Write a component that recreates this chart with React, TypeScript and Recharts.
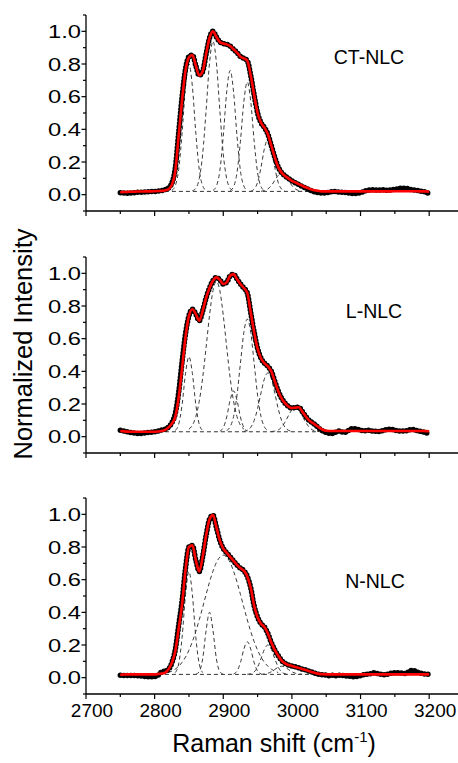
import React from 'react';
import { ComposedChart, Line, XAxis, YAxis } from 'recharts';

// Raman shift grid (cm-1) shared by the measured spectra and the fits
const SHIFT = [
  2750, 2755, 2760, 2765, 2770, 2775, 2780, 2785, 2790, 2795,
  2800, 2805, 2810, 2815, 2820, 2825, 2830, 2835, 2840, 2845,
  2850, 2855, 2860, 2865, 2870, 2875, 2880, 2885, 2890, 2895,
  2900, 2905, 2910, 2915, 2920, 2925, 2930, 2935, 2940, 2945,
  2950, 2955, 2960, 2965, 2970, 2975, 2980, 2985, 2990, 2995,
  3000, 3005, 3010, 3015, 3020, 3025, 3030, 3035, 3040, 3045,
  3050, 3055, 3060, 3065, 3070, 3075, 3080, 3085, 3090, 3095,
  3100, 3105, 3110, 3115, 3120, 3125, 3130, 3135, 3140, 3145,
  3150, 3155, 3160, 3165, 3170, 3175, 3180, 3185, 3190, 3195,
  3200,
];

// CT-NLC
const CT_EXP = [
  0.012, 0.01, 0.008, 0.01, 0.012, 0.014, 0.015, 0.016, 0.018, 0.02,
  0.02, 0.022, 0.025, 0.03, 0.04, 0.07, 0.16, 0.38, 0.6, 0.77,
  0.845, 0.855, 0.79, 0.73, 0.755, 0.86, 0.96, 1.0, 0.965, 0.935,
  0.925, 0.92, 0.91, 0.89, 0.87, 0.845, 0.835, 0.82, 0.73, 0.61,
  0.5, 0.44, 0.41, 0.37, 0.3, 0.23, 0.17, 0.135, 0.115, 0.1,
  0.085, 0.073, 0.062, 0.05, 0.04, 0.03, 0.022, 0.015, 0.012, 0.01,
  0.012, 0.015, 0.02, 0.018, 0.015, 0.014, 0.012, 0.008, 0.006, 0.008,
  0.012, 0.02, 0.026, 0.03, 0.03, 0.028, 0.03, 0.03, 0.026, 0.03,
  0.032, 0.036, 0.04, 0.04, 0.036, 0.03, 0.028, 0.024, 0.02, 0.015,
  0.005,
];
const CT_FIT = [
  0.015, 0.016, 0.017, 0.018, 0.018, 0.019, 0.019, 0.02, 0.02, 0.02,
  0.021, 0.022, 0.023, 0.026, 0.033, 0.06, 0.14, 0.36, 0.58, 0.76,
  0.84, 0.855, 0.79, 0.73, 0.755, 0.86, 0.96, 1.0, 0.965, 0.935,
  0.925, 0.92, 0.91, 0.89, 0.87, 0.845, 0.835, 0.82, 0.73, 0.61,
  0.5, 0.44, 0.41, 0.37, 0.3, 0.23, 0.17, 0.135, 0.115, 0.1,
  0.085, 0.075, 0.065, 0.055, 0.045, 0.037, 0.03, 0.025, 0.022, 0.02,
  0.02, 0.02, 0.02, 0.02, 0.02, 0.02, 0.02, 0.02, 0.02, 0.02,
  0.02, 0.02, 0.02, 0.02, 0.02, 0.02, 0.02, 0.02, 0.02, 0.02,
  0.021, 0.021, 0.021, 0.021, 0.021, 0.021, 0.021, 0.02, 0.02, 0.02,
  0.018,
];
const CT_PEAK_FROM = [2825, 2855, 2885, 2910, 2940, 2955];
const CT_PEAKS = [
  [0.026, 0.054, 0.154, 0.377, 0.662, 0.8, 0.662, 0.377, 0.154, 0.054, 0.026],
  [0.024, 0.039, 0.098, 0.249, 0.516, 0.808, 0.94, 0.808, 0.516, 0.249, 0.098, 0.039, 0.024],
  [0.026, 0.053, 0.147, 0.359, 0.629, 0.76, 0.629, 0.359, 0.147, 0.053, 0.026],
  [0.025, 0.049, 0.135, 0.327, 0.571, 0.69, 0.571, 0.327, 0.135, 0.049, 0.025],
  [0.022, 0.034, 0.075, 0.167, 0.283, 0.34, 0.283, 0.167, 0.075, 0.034, 0.022],
  [0.021, 0.025, 0.035, 0.056, 0.087, 0.117, 0.13, 0.117, 0.087, 0.056, 0.035, 0.025, 0.021],
];
const CT_BASE = [0.02, 0.02];

// L-NLC
const L_EXP = [
  0.04, 0.035, 0.03, 0.025, 0.022, 0.02, 0.02, 0.022, 0.025, 0.027,
  0.03, 0.034, 0.04, 0.045, 0.058, 0.085, 0.14, 0.27, 0.46, 0.63,
  0.74, 0.78, 0.75, 0.71, 0.77, 0.85, 0.91, 0.955, 0.975, 0.96,
  0.935, 0.945, 0.985, 0.995, 0.965, 0.935, 0.91, 0.88, 0.76, 0.64,
  0.54, 0.48, 0.45, 0.43, 0.4, 0.34, 0.28, 0.235, 0.205, 0.185,
  0.175, 0.178, 0.18, 0.155, 0.125, 0.1, 0.085, 0.068, 0.05, 0.035,
  0.025, 0.02, 0.02, 0.03, 0.035, 0.025, 0.03, 0.045, 0.05, 0.045,
  0.04, 0.035, 0.04, 0.035, 0.035, 0.03, 0.035, 0.04, 0.045, 0.045,
  0.04, 0.035, 0.035, 0.035, 0.04, 0.045, 0.04, 0.035, 0.03, 0.025,
  0.015,
];
const L_FIT = [
  0.035, 0.033, 0.031, 0.03, 0.03, 0.03, 0.03, 0.03, 0.03, 0.03,
  0.03, 0.032, 0.035, 0.04, 0.055, 0.08, 0.12, 0.24, 0.42, 0.61,
  0.74, 0.78, 0.75, 0.71, 0.77, 0.85, 0.91, 0.955, 0.975, 0.96,
  0.935, 0.945, 0.985, 0.995, 0.965, 0.935, 0.91, 0.88, 0.76, 0.64,
  0.54, 0.48, 0.45, 0.43, 0.4, 0.34, 0.28, 0.235, 0.205, 0.185,
  0.175, 0.178, 0.18, 0.155, 0.125, 0.1, 0.085, 0.07, 0.055, 0.042,
  0.036, 0.035, 0.035, 0.035, 0.035, 0.035, 0.035, 0.035, 0.035, 0.035,
  0.035, 0.035, 0.035, 0.035, 0.035, 0.035, 0.035, 0.035, 0.035, 0.035,
  0.035, 0.035, 0.035, 0.035, 0.035, 0.035, 0.035, 0.035, 0.035, 0.034,
  0.033,
];
const L_PEAK_FROM = [2830, 2850, 2895, 2905, 2930, 2970];
const L_PEAKS = [
  [0.038, 0.076, 0.196, 0.387, 0.49, 0.387, 0.196, 0.076, 0.038],
  [0.046, 0.07, 0.123, 0.217, 0.361, 0.548, 0.743, 0.894, 0.95, 0.894, 0.743, 0.548, 0.361, 0.217, 0.123, 0.07, 0.046],
  [0.034, 0.055, 0.12, 0.224, 0.28, 0.224, 0.12, 0.055, 0.034],
  [0.038, 0.06, 0.123, 0.254, 0.449, 0.639, 0.72, 0.639, 0.449, 0.254, 0.123, 0.06, 0.038],
  [0.032, 0.039, 0.057, 0.099, 0.172, 0.268, 0.355, 0.39, 0.355, 0.268, 0.172, 0.099, 0.057, 0.039, 0.032],
  [0.031, 0.034, 0.041, 0.059, 0.089, 0.129, 0.165, 0.18, 0.165, 0.129, 0.089, 0.059, 0.041, 0.034, 0.031],
];
const L_BASE = [0.03, 0.03];

// N-NLC
const N_EXP = [
  0.015, 0.014, 0.014, 0.013, 0.013, 0.012, 0.01, 0.008, 0.006, 0.005,
  0.006, 0.015, 0.035, 0.04, 0.05, 0.09, 0.17, 0.32, 0.47, 0.67,
  0.8, 0.81, 0.72, 0.65, 0.74, 0.87, 0.97, 0.995, 0.92, 0.84,
  0.79, 0.765, 0.74, 0.715, 0.69, 0.67, 0.655, 0.62, 0.55, 0.44,
  0.37, 0.33, 0.31, 0.27, 0.215, 0.17, 0.135, 0.105, 0.088, 0.078,
  0.072, 0.066, 0.06, 0.053, 0.047, 0.04, 0.033, 0.025, 0.02, 0.018,
  0.015, 0.012, 0.015, 0.012, 0.015, 0.012, 0.01, 0.008, 0.006, 0.008,
  0.012, 0.018, 0.022, 0.025, 0.03, 0.025, 0.02, 0.018, 0.022, 0.028,
  0.03, 0.03, 0.028, 0.025, 0.035, 0.045, 0.04, 0.03, 0.025, 0.022,
  0.02,
];
const N_FIT = [
  0.018, 0.019, 0.02, 0.02, 0.02, 0.02, 0.02, 0.02, 0.02, 0.02,
  0.02, 0.022, 0.025, 0.03, 0.05, 0.09, 0.16, 0.3, 0.45, 0.66,
  0.8, 0.81, 0.72, 0.65, 0.74, 0.87, 0.97, 0.995, 0.92, 0.84,
  0.79, 0.765, 0.74, 0.715, 0.69, 0.67, 0.655, 0.62, 0.55, 0.44,
  0.37, 0.33, 0.31, 0.27, 0.215, 0.17, 0.135, 0.105, 0.088, 0.078,
  0.072, 0.066, 0.06, 0.053, 0.047, 0.04, 0.033, 0.027, 0.023, 0.021,
  0.02, 0.02, 0.02, 0.02, 0.02, 0.02, 0.02, 0.02, 0.02, 0.02,
  0.02, 0.02, 0.02, 0.02, 0.02, 0.02, 0.02, 0.02, 0.02, 0.02,
  0.02, 0.02, 0.02, 0.02, 0.02, 0.02, 0.02, 0.02, 0.02, 0.02,
  0.02,
];
const N_PEAK_FROM = [2830, 2860, 2820, 2915, 2935, 2955];
const N_PEAKS = [
  [0.031, 0.084, 0.247, 0.508, 0.65, 0.508, 0.247, 0.084, 0.031],
  [0.021, 0.037, 0.115, 0.289, 0.4, 0.289, 0.115, 0.037, 0.021],
  [0.032, 0.04, 0.052, 0.07, 0.094, 0.126, 0.168, 0.221, 0.283, 0.354, 0.431, 0.51, 0.586, 0.652, 0.705, 0.738, 0.75,
    0.738, 0.705, 0.652, 0.586, 0.51, 0.431, 0.354, 0.283, 0.221, 0.168, 0.126, 0.094, 0.07, 0.052, 0.04, 0.032],
  [0.023, 0.04, 0.092, 0.175, 0.22, 0.175, 0.092, 0.04, 0.023],
  [0.021, 0.024, 0.035, 0.065, 0.117, 0.174, 0.2, 0.174, 0.117, 0.065, 0.035, 0.024, 0.021],
  [0.021, 0.022, 0.027, 0.036, 0.05, 0.064, 0.07, 0.064, 0.05, 0.036, 0.027, 0.022, 0.021],
];
const N_BASE = [0.02, 0.02];

const BASE_X = [2815, 3040];
const PEAK_STEP = 5;

const X_TICKS = [2700, 2750, 2800, 2850, 2900, 2950, 3000, 3050, 3100, 3150, 3200];
const Y_TICKS = [-0.1, 0, 0.1, 0.2, 0.3, 0.4, 0.5, 0.6, 0.7, 0.8, 0.9, 1.0, 1.1];

const FONT = '"Liberation Sans", Arial, Helvetica, sans-serif';

const panels = [
  { name: 'CT-NLC', exp: CT_EXP, fit: CT_FIT, from: CT_PEAK_FROM, peaks: CT_PEAKS, base: CT_BASE, top: 5, labelX: 369, labelY: 64 },
  { name: 'L-NLC', exp: L_EXP, fit: L_FIT, from: L_PEAK_FROM, peaks: L_PEAKS, base: L_BASE, top: 247, labelX: 374, labelY: 318 },
  { name: 'N-NLC', exp: N_EXP, fit: N_FIT, from: N_PEAK_FROM, peaks: N_PEAKS, base: N_BASE, top: 488, labelX: 375, labelY: 588 },
];

// eslint-disable-next-line @typescript-eslint/no-explicit-any
const XTick = (props: any) => {
  const { x, y, payload, showLabel } = props;
  const major = payload.value % 100 === 0;
  return (
    <g>
      <line x1={x} x2={x} y1={y} y2={y + (major ? 5 : 3)} stroke="#000" strokeWidth={1.2} />
      {showLabel && major && (
        <text x={x + 6} y={y + 23} textAnchor="middle" fontSize={19} fontFamily={FONT} fill="#000">
          {payload.value}
        </text>
      )}
    </g>
  );
};

// eslint-disable-next-line @typescript-eslint/no-explicit-any
const YTick = (props: any) => {
  const { x, y, payload } = props;
  const k = Math.round(payload.value * 10);
  const major = k >= 0 && k <= 10 && k % 2 === 0;
  return (
    <g>
      <line x1={x - (major ? 4.5 : 3)} x2={x} y1={y} y2={y} stroke="#000" strokeWidth={1.2} />
      {major && (
        <text
          x={x - 5}
          y={y + 6.5}
          textAnchor="end"
          fontSize={18.5}
          fontFamily={FONT}
          fill="#000"
          textLength={33}
          lengthAdjust="spacingAndGlyphs"
        >
          {(k / 10).toFixed(1)}
        </text>
      )}
    </g>
  );
};

const Panel: React.FC<{ p: typeof panels[number]; last: boolean }> = ({ p, last }) => {
  const rows = SHIFT.map((x, i) => ({ x, exp: p.exp[i], fit: p.fit[i] }));
  const baseRows = BASE_X.map((x, i) => ({ x, y: p.base[i] }));
  return (
    <div style={{ position: 'absolute', left: 0, top: p.top }}>
      <ComposedChart width={458} height={236} data={rows} margin={{ top: 10, right: 0, bottom: 0, left: 0 }}>
        <XAxis
          type="number"
          dataKey="x"
          domain={[2700, 3242]}
          ticks={X_TICKS}
          interval={0}
          allowDataOverflow
          height={30}
          tickSize={0}
          tickMargin={0}
          tickLine={false}
          axisLine={{ stroke: '#000', strokeWidth: 1.3 }}
          tick={(tp: any) => <XTick {...tp} showLabel={last} />}
        />
        <YAxis
          type="number"
          domain={[-0.1, 1.1]}
          ticks={Y_TICKS}
          interval={0}
          allowDataOverflow
          width={86}
          tickSize={0}
          tickMargin={0}
          tickLine={false}
          axisLine={{ stroke: '#000', strokeWidth: 1.3 }}
          tick={YTick}
        />
        <Line
          data={baseRows}
          dataKey="y"
          stroke="#333"
          strokeWidth={1}
          strokeDasharray="4 3"
          dot={false}
          isAnimationActive={false}
        />
        {p.peaks.map((ys, j) => (
          <Line
            key={j}
            data={ys.map((y, i) => ({ x: p.from[j] + i * PEAK_STEP, y }))}
            dataKey="y"
            type="monotone"
            stroke="#3a3a3a"
            strokeWidth={1}
            strokeDasharray="4 3"
            dot={false}
            isAnimationActive={false}
          />
        ))}
        <Line
          dataKey="exp"
          type="monotone"
          stroke="#000"
          strokeWidth={5.5}
          strokeDasharray="0 3.5"
          strokeLinecap="round"
          dot={false}
          isAnimationActive={false}
        />
        <Line
          dataKey="fit"
          type="monotone"
          stroke="#ff0000"
          strokeWidth={2.6}
          dot={false}
          isAnimationActive={false}
        />
      </ComposedChart>
    </div>
  );
};

export default function App() {
  return (
    <div
      style={{
        position: 'absolute',
        left: 0,
        top: 0,
        width: 458,
        height: 763,
        overflow: 'hidden',
        background: '#fff',
        fontFamily: FONT,
      }}
    >
      {panels.map((p, i) => (
        <Panel key={p.name} p={p} last={i === panels.length - 1} />
      ))}
      <svg
        width={458}
        height={763}
        style={{ position: 'absolute', left: 0, top: 0, pointerEvents: 'none' }}
      >
        {panels.map((p) => (
          <text key={p.name} x={p.labelX} y={p.labelY} textAnchor="middle" fontSize={19.5} fontFamily={FONT} fill="#000">
            {p.name}
          </text>
        ))}
        <text
          transform="translate(32,344) rotate(-90)"
          textAnchor="middle"
          fontSize={25.5}
          fontFamily={FONT}
          fill="#000"
        >
          Normalized Intensity
        </text>
        <text x={274} y={752} textAnchor="middle" fontSize={25} fontFamily={FONT} fill="#000">
          Raman shift (cm
          <tspan fontSize={15} dy={-10}>-1</tspan>
          <tspan dy={10}>)</tspan>
        </text>
      </svg>
    </div>
  );
}
